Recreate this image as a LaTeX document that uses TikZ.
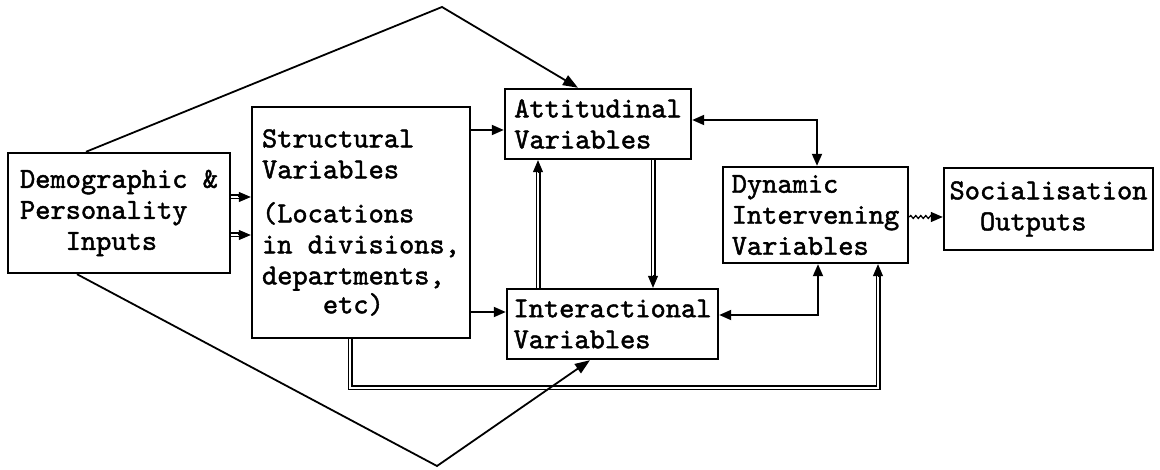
\documentclass[tikz,border=0pt]{standalone}
\usepackage{fontspec}
\newfontfamily\typewriter[Extension=.otf, FakeBold=1.6]{lmmono10-regular}
\usetikzlibrary{arrows.meta,calc,decorations.pathmorphing}

\begin{document}
\begin{tikzpicture}[x=1pt,y=-1pt,
  box/.style={draw, line width=2.4pt, inner sep=0pt, align=left,
    font=\typewriter\fontsize{29}{31}\selectfont},
  link/.style={line width=1.8pt},
  head/.style={-{Triangle[length=12pt,width=10pt]}},
  heads/.style={{Triangle[length=12pt,width=10pt]}-{Triangle[length=12pt,width=10pt]}},
  dbl/.style={double, double distance=2.4pt, line width=1.3pt, shorten >=10pt},
]
\useasboundingbox (0,0) rectangle (1160,470);

% boxes
\node[box, minimum width=222pt, minimum height=120pt] (dem) at (119,213)
  {Demographic \&\\Personality\\\phantom{xxx}Inputs};
\node[box, minimum width=218pt, minimum height=231pt] (str) at (361,222.5)
  {Structural\\Variables\\[13pt](Locations\\in divisions,\\departments,\\[-2pt]\phantom{xxxx}etc)};
\node[box, minimum width=186pt, minimum height=70pt] (att) at (598,124)
  {Attitudinal\\Variables};
\node[box, minimum width=211pt, minimum height=70pt] (int) at (612.5,324)
  {Interactional\\Variables};
\node[box, minimum width=185pt, minimum height=96pt] (dyn) at (815.5,215)
  {Dynamic\\Intervening\\Variables};
\node[box, minimum width=209pt, minimum height=82pt] (soc) at (1048.5,209)
  {Socialisation\\\phantom{xx}Outputs};

% routing points
\coordinate (top) at (442,7);
\coordinate (bot) at (437,466);
\coordinate (ad) at (817,120);
\coordinate (id) at (818,315);
\coordinate (sa) at (350,388);
\coordinate (sb) at (878,388);

% demographic -> structural (double shafts)
\foreach \y/\n in {197/1,235/2}{
  \coordinate (d\n) at (dem.east |- 0,\y);
  \coordinate (s\n) at (str.west |- 0,\y);
  \draw[dbl] (d\n) -- (s\n);
  \draw[head, line width=1pt] ($(s\n)!13pt!(d\n)$) -- (s\n);
}

% structural -> attitudinal / interactional
\draw[link, head] (str.east |- 0,130) -- (att.west |- 0,130);
\draw[link, head] (str.east |- 0,312) -- (int.west |- 0,312);

% interactional <-> attitudinal (double shafts)
\coordinate (iu) at (int.north -| 538,0);
\coordinate (au) at (att.south -| 538,0);
\draw[dbl] (iu) -- (au);
\draw[head, line width=1pt] ($(au)!13pt!(iu)$) -- (au);
\coordinate (ad1) at (att.south -| 653,0);
\coordinate (id1) at (int.north -| 653,0);
\draw[dbl] (ad1) -- (id1);
\draw[head, line width=1pt] ($(id1)!13pt!(ad1)$) -- (id1);

% two-way links to the dynamic variables
\draw[link, heads] (att.east |- ad) -- (ad) -- (dyn.north -| ad);
\draw[link, heads] (int.east |- id) -- (id) -- (dyn.south -| id);

% structural -> dynamic along the bottom (double shaft)
\coordinate (sd) at (dyn.south -| sb);
\draw[dbl, line join=miter] (str.south -| sa) -- (sa) -- (sb) -- (sd);
\draw[head, line width=1pt] ($(sd)!13pt!(sb)$) -- (sd);

% dynamic ~> socialisation
\draw[link, line width=1.3pt, head, decorate,
  decoration={snake, amplitude=1.4pt, segment length=5pt, post length=10pt}]
  (dyn.east |- 0,217) -- (soc.west |- 0,217);

% outer paths from demographic inputs
\draw[link, -{Triangle[length=15pt,width=11pt]}]
  (dem.north -| 86,0) -- (top) -- (att.north -| 578,0);
\draw[link, -{Triangle[length=15pt,width=11pt]}]
  (dem.south -| 77,0) -- (bot) -- (int.south -| 590,0);
\end{tikzpicture}
\end{document}
